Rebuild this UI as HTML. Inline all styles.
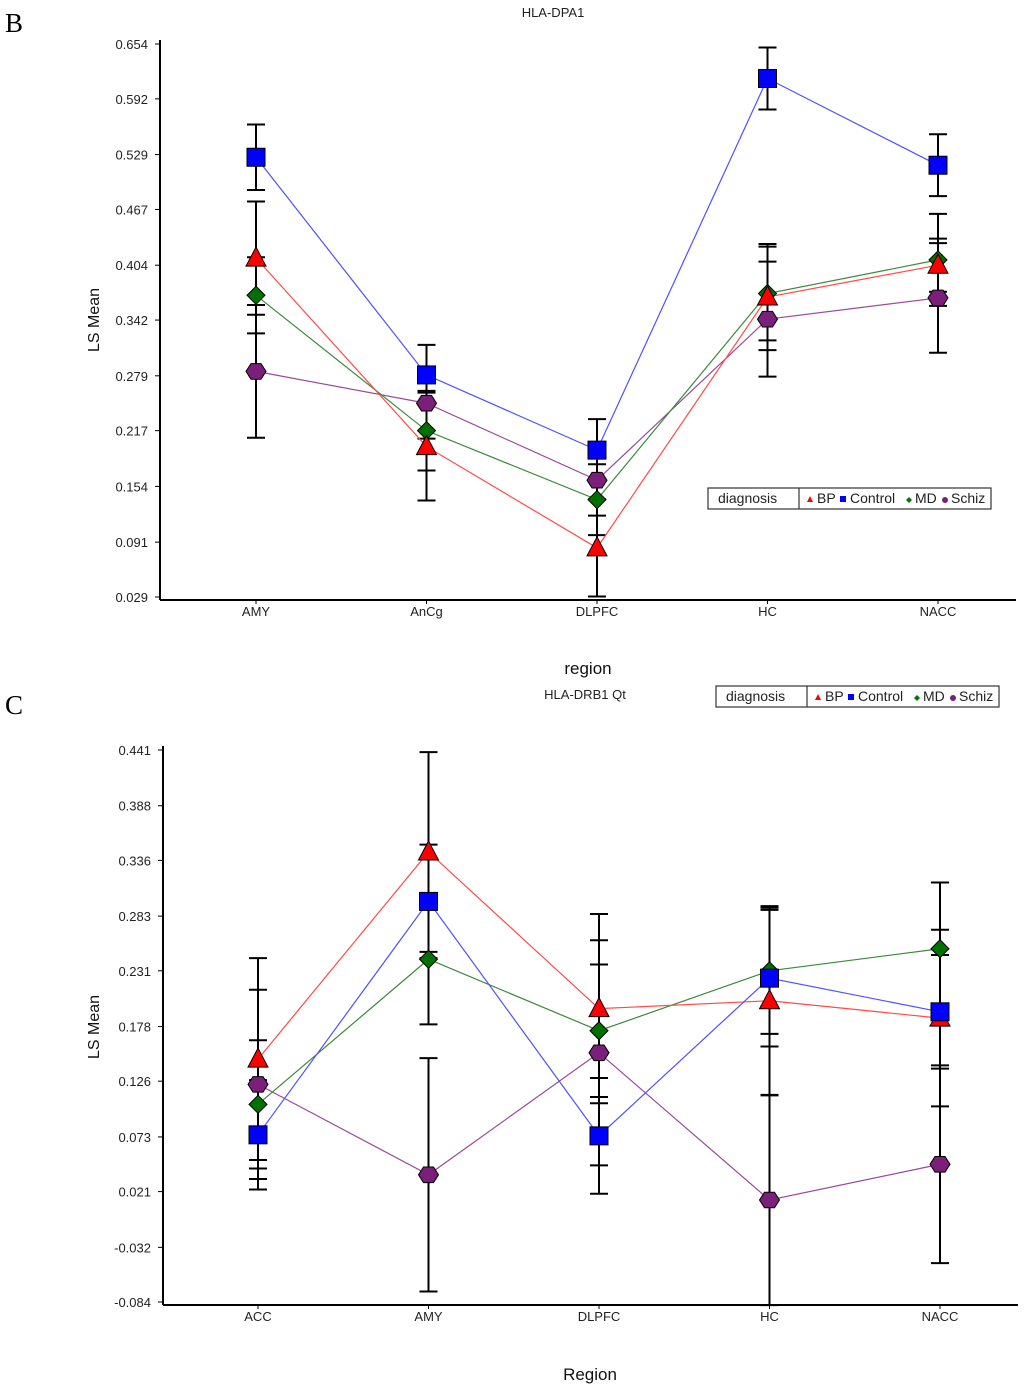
<!DOCTYPE html>
<html><head><meta charset="utf-8"><style>
body{margin:0;background:#fff;}
svg{display:block;font-family:"Liberation Sans",sans-serif;}
</style></head><body>
<svg id="s" width="1024" height="1391" viewBox="0 0 1024 1391">
<text x="5" y="32" font-family="Liberation Serif" font-size="27">B</text>
<text x="5" y="714" font-family="Liberation Serif" font-size="27">C</text>
</svg>
<script>
const NS='http://www.w3.org/2000/svg';
const svg=document.getElementById('s');
// ---- Panel B data ----
const catsB=['AMY','AnCg','DLPFC','HC','NACC'];
const ticksB=['0.029','0.091','0.154','0.217','0.279','0.342','0.404','0.467','0.529','0.592','0.654'];
const bpB=[0.412,0.199,0.0845,0.368,0.404];
const ctrlB=[0.526,0.280,0.195,0.615,0.517];
const mdB=[0.370,0.217,0.139,0.372,0.410];
const schB=[0.284,0.248,0.161,0.343,0.367];
const bpErrB=[0.064,0.061,0.055,0.060,0.030];
const ctrlErrB=[0.037,0.034,0.035,0.035,0.035];
const mdErrB=[0.043,0.045,0.040,0.053,0.052];
const schErrB=[0.075,0.040,0.040,0.065,0.062];
// ---- Panel C data ----
const catsC=['ACC','AMY','DLPFC','HC','NACC'];
const ticksC=['-0.084','-0.032','0.021','0.073','0.126','0.178','0.231','0.283','0.336','0.388','0.441'];
const bpC=[0.147,0.344,0.195,0.2025,0.186];
const ctrlC=[0.075,0.297,0.074,0.224,0.192];
const mdC=[0.104,0.242,0.174,0.231,0.252];
const schC=[0.123,0.037,0.153,0.013,0.047];
const bpErrC=[0.096,0.095,0.090,0.090,0.084];
const ctrlErrC=[0.052,0.054,0.055,0.065,0.054];
const mdErrC=[0.061,0.062,0.063,0.060,0.063];
const schErrC=[0.090,0.111,0.107,0.100,0.094];

function el(tag,attrs,parent){const e=document.createElementNS(NS,tag);for(const k in attrs)e.setAttribute(k,attrs[k]);(parent||svg).appendChild(e);return e;}
function txt(x,y,s,attrs,parent){const t=el('text',Object.assign({x:x,y:y},attrs),parent);t.textContent=s;return t;}

function marker(g,type,x,y,color){
  let m;
  if(type==='tri'){m=el('polygon',{points:`${x},${y-11} ${x+10},${y+8} ${x-10},${y+8}`},g);}
  else if(type==='sq'){m=el('rect',{x:x-9,y:y-9,width:18,height:18},g);}
  else if(type==='dia'){m=el('polygon',{points:`${x},${y-9} ${x+9},${y} ${x},${y+9} ${x-9},${y}`},g);}
  else {const p=[];for(let i=0;i<6;i++){const a=Math.PI/3*i;p.push((x+10*Math.cos(a)).toFixed(1)+','+(y+9*Math.sin(a)).toFixed(1));}m=el('polygon',{points:p.join(' ')},g);}
  m.setAttribute('fill',color);m.setAttribute('stroke','#000');m.setAttribute('stroke-width','1');
  return m;
}

function panel(o){
  const g=el('g',{});
  
  
  const tmin=parseFloat(o.ticks[0]),tmax=parseFloat(o.ticks[o.ticks.length-1]);
  const y=v=>o.y0+(tmax-v)/(tmax-tmin)*(o.y1-o.y0);
  const x=i=>o.xs0+i*o.xstep;
  // axes
  const ya=el('line',{x1:o.ax,y1:o.y0-4,x2:o.ax,y2:o.xline,stroke:'#000','stroke-width':2},g);
  
  const xa=el('line',{x1:o.ax,y1:o.xline,x2:o.ax2,y2:o.xline,stroke:'#000','stroke-width':2},g);
  
  o.ticks.forEach(t=>{const v=parseFloat(t);const yy=y(v);
    el('line',{x1:o.ax-5,y1:yy,x2:o.ax,y2:yy,stroke:'#000','stroke-width':1},g);
    const tl=txt(o.ax-12,yy+5,t,{'font-size':13,'text-anchor':'end',fill:'#222'},g);
    
  });
  o.cats.forEach((c,i)=>{
    el('line',{x1:x(i),y1:o.xline,x2:x(i),y2:o.xline+4,stroke:'#000','stroke-width':1},g);
    const tl=txt(x(i),o.xline+16,c,{'font-size':13,'text-anchor':'middle',fill:'#222'},g);
    
  });
  const series=[
    {n:'schiz',v:o.sch,e:o.schE,c:'#7a1f7a',lc:'#9a4a9a',t:'hex'},
    {n:'md',v:o.md,e:o.mdE,c:'#007000',lc:'#3a8a3a',t:'dia'},
    {n:'bp',v:o.bp,e:o.bpE,c:'#ff0000',lc:'#ff4a4a',t:'tri'},
    {n:'control',v:o.ctrl,e:o.ctrlE,c:'#0000ff',lc:'#5050ff',t:'sq'}
  ];
  // error bars
  series.forEach(s=>{s.v.forEach((v,i)=>{
    const eb=el('g',{stroke:'#000','stroke-width':2},g);
    
    const a=y(v+s.e[i]),b=y(v-s.e[i]);
    el('line',{x1:x(i),y1:a,x2:x(i),y2:b},eb);
    el('line',{x1:x(i)-9,y1:a,x2:x(i)+9,y2:a},eb);
    el('line',{x1:x(i)-9,y1:b,x2:x(i)+9,y2:b},eb);
  });});
  series.forEach(s=>{
    const pts=s.v.map((v,i)=>x(i)+','+y(v)).join(' ');
    const l=el('polyline',{points:pts,fill:'none',stroke:s.lc,'stroke-width':1.2},g);
    
  });
  series.forEach(s=>{s.v.forEach((v,i)=>{
    const m=marker(g,s.t,x(i),y(v),s.c);
    
  });});
  const ttl=txt(o.titleX,o.titleY,o.title,{'font-size':13,'text-anchor':'middle',fill:'#222'},g);
  
  const yl=txt(0,0,'LS Mean',{'font-size':16,'text-anchor':'middle',transform:`translate(99,${o.ylY}) rotate(-90)`,fill:'#111'},g);
  
  const xl=txt(o.xlX,o.xlY,o.xlabel,{'font-size':17,'text-anchor':'middle',fill:'#111'},g);
  
  // legend
  const lg=el('g',{},g);
  
  const lx=o.lx,ly=o.ly;
  el('rect',{x:lx,y:ly,width:283,height:21,fill:'#fff',stroke:'#333','stroke-width':1.2},lg);
  el('line',{x1:lx+91,y1:ly,x2:lx+91,y2:ly+21,stroke:'#333','stroke-width':1.2},lg);
  txt(lx+10,ly+15,'diagnosis',{'font-size':14,fill:'#222'},lg);
  el('polygon',{points:`${lx+102},${ly+8} ${lx+105},${ly+14} ${lx+99},${ly+14}`,fill:'#f00'},lg);
  txt(lx+109,ly+15,'BP',{'font-size':14,fill:'#222'},lg);
  el('rect',{x:lx+132,y:ly+8,width:6,height:6,fill:'#00f'},lg);
  txt(lx+142,ly+15,'Control',{'font-size':14,fill:'#222'},lg);
  el('polygon',{points:`${lx+201},${ly+9} ${lx+204},${ly+12} ${lx+201},${ly+15} ${lx+198},${ly+12}`,fill:'#070'},lg);
  txt(lx+207,ly+15,'MD',{'font-size':14,fill:'#222'},lg);
  el('circle',{cx:lx+237,cy:ly+12,r:3,fill:'#7a1f7a'},lg);
  txt(lx+243,ly+15,'Schiz',{'font-size':14,fill:'#222'},lg);
}
panel({name:'panel-b-chart',cats:catsB,ticks:ticksB,bp:bpB,ctrl:ctrlB,md:mdB,sch:schB,bpE:bpErrB,ctrlE:ctrlErrB,mdE:mdErrB,schE:schErrB,
  y0:44,y1:597,ax:160,ax2:1016,xline:600,xs0:256,xstep:170.5,title:'HLA-DPA1',titleX:553,titleY:17,ylY:320,xlabel:'region',xlX:588,xlY:674,lx:708,ly:488});
panel({name:'panel-c-chart',cats:catsC,ticks:ticksC,bp:bpC,ctrl:ctrlC,md:mdC,sch:schC,bpE:bpErrC,ctrlE:ctrlErrC,mdE:mdErrC,schE:schErrC,
  y0:750,y1:1302,ax:163,ax2:1018,xline:1305,xs0:258,xstep:170.5,title:'HLA-DRB1 Qt',titleX:585,titleY:699,ylY:1027,xlabel:'Region',xlX:590,xlY:1380,lx:716,ly:686});
</script>
</body></html>
